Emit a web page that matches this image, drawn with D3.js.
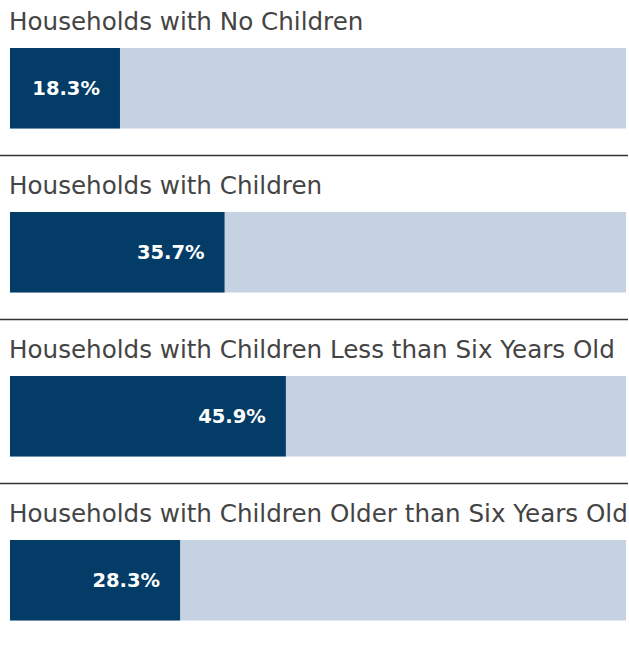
<!DOCTYPE html>
<html>
<head>
<meta charset="utf-8">
<script src="https://cdn.jsdelivr.net/npm/d3@7"></script>
<style>
  body { margin: 0; background: #fff; }
  .title { font-family: "DejaVu Sans", sans-serif; font-size: 24.6px; fill: #444; }
  .label { font-family: "DejaVu Sans", sans-serif; font-size: 19.5px; font-weight: bold; fill: #fff; }
</style>
</head>
<body>
<div id="chart"></div>
<script>
var categories = [
  "Households with No Children",
  "Households with Children",
  "Households with Children Less than Six Years Old",
  "Households with Children Older than Six Years Old"
];
var values = [18.3, 35.7, 45.9, 28.3];

var width = 629, height = 645;
var panelH = 164;

var svg = d3.select("#chart").append("svg")
    .attr("width", width)
    .attr("height", height);

// x scale for the bars, background spans the full domain
var x = d3.scaleLinear()
    .domain([0, 102.5])
    .range([10, 626]);

var y = d3.scaleBand()
    .domain(categories)
    .range([0, panelH * categories.length]);

var panel = svg.selectAll(".panel")
    .data(categories)
  .enter().append("g")
    .attr("class", "panel")
    .attr("transform", function(d) { return "translate(0," + y(d) + ")"; });

panel.append("text")
    .attr("class", "title")
    .attr("x", 9)
    .attr("y", 30)
    .text(function(d) { return d; });

// background bar
panel.append("rect")
    .attr("x", x(0))
    .attr("y", 48)
    .attr("width", x(102.5) - x(0))
    .attr("height", 80.5)
    .attr("fill", "#c5d2e2");

// value bar
panel.append("rect")
    .attr("x", x(0))
    .attr("y", 48)
    .attr("width", function(d, i) { return x(values[i]) - x(0); })
    .attr("height", 80.5)
    .attr("fill", "#033d67");

panel.append("text")
    .attr("class", "label")
    .attr("x", function(d, i) { return x(values[i]) - 20; })
    .attr("y", 88)
    .attr("dy", "0.35em")
    .attr("text-anchor", "end")
    .text(function(d, i) { return d3.format(".1f")(values[i]) + "%"; });

// dividers between panels
svg.selectAll(".divider")
    .data(categories.slice(1))
  .enter().append("line")
    .attr("class", "divider")
    .attr("x1", 0)
    .attr("x2", 628)
    .attr("y1", function(d) { return y(d) - 8.5; })
    .attr("y2", function(d) { return y(d) - 8.5; })
    .attr("stroke", "#333")
    .attr("stroke-width", 1.3);
</script>
</body>
</html>
